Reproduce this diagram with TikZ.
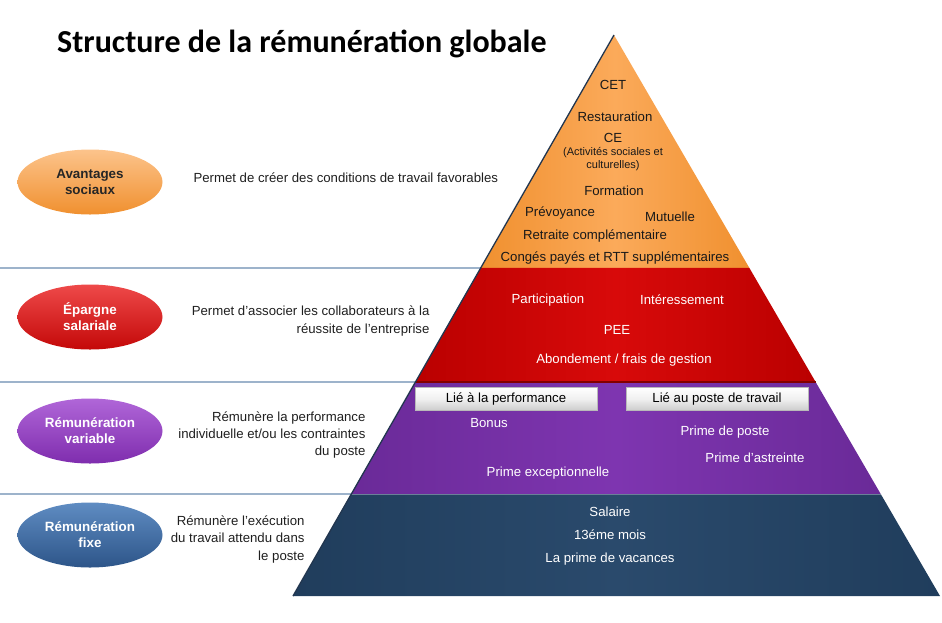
\documentclass[tikz,border=0pt]{standalone}
\usepackage{fontspec}
\setmainfont{Liberation Sans}
\newfontfamily\titlefont{Carlito}
\usepackage{tikz}
\usetikzlibrary{shapes.geometric, calc, positioning}

\definecolor{orangeL}{HTML}{FBAA5A}
\definecolor{orangeD}{HTML}{F0902F}
\definecolor{redL}{HTML}{D80A0A}
\definecolor{redD}{HTML}{BA0000}
\definecolor{purpleL}{HTML}{7E35B0}
\definecolor{purpleD}{HTML}{6A2A98}
\definecolor{blueL}{HTML}{2A4A6C}
\definecolor{blueD}{HTML}{203D5C}
\definecolor{sepline}{HTML}{9DB3CB}
\definecolor{edgeline}{HTML}{22364F}
\definecolor{badgeblueL}{HTML}{5F8CC2}
\definecolor{badgeblueD}{HTML}{2D5589}
\definecolor{badgepurpL}{HTML}{B066D8}
\definecolor{badgepurpD}{HTML}{7F2DAE}
\definecolor{badgeredL}{HTML}{EE4A4A}
\definecolor{badgeredD}{HTML}{C40808}

\begin{document}
\begin{tikzpicture}[x=1pt, y=-1pt,
				font=\fontsize{13.2}{15}\selectfont,
				badge/.style={ellipse, minimum width=145pt, minimum height=65pt,
					inner sep=0pt, align=center,
					font=\bfseries\fontsize{13.4}{16}\selectfont},
				desc/.style={align=right, text=black!88,
					font=\fontsize{13.2}{17.5}\selectfont},
				item/.style={text=black!90},
				itemw/.style={text=white},
				tag/.style={draw=gray!55, top color=white, bottom color=gray!40,
					middle color=gray!12, minimum width=182pt, minimum height=23pt,
					inner sep=0pt},
				sep/.style={draw=sepline, line width=1.6pt}]
				\useasboundingbox (0,0) rectangle (942,622);
				% title
				\node[anchor=west, inner sep=0pt] at (57,44) (title)
					{\titlefont\bfseries\fontsize{32}{34}\selectfont Structure de la rémunération globale};
				% pyramid corners and layer limits
				\coordinate (apex) at (614,35);
				\coordinate (bl) at (293,596);
				\coordinate (br) at (940,596);
				\coordinate (l1) at ($(apex)!0.4153!(bl)$);
				\coordinate (r1) at ($(apex)!0.4153!(br)$);
				\coordinate (l2) at ($(apex)!0.6185!(bl)$);
				\coordinate (r2) at ($(apex)!0.6185!(br)$);
				\coordinate (l3) at ($(apex)!0.8182!(bl)$);
				\coordinate (r3) at ($(apex)!0.8182!(br)$);
				% separators
				\draw[sep] (0,0 |- l1) -- (l1);
				\draw[sep] (0,0 |- l2) -- (l2);
				\draw[sep] (0,0 |- l3) -- (l3);
				% layers
				\shade[left color=orangeD, right color=orangeD, middle color=orangeL]
					(apex) -- (l1) -- (r1) -- cycle;
				\shade[left color=redD, right color=redD, middle color=redL]
					(l1) -- (l2) -- (r2) -- (r1) -- cycle;
				\shade[left color=purpleD, right color=purpleD, middle color=purpleL]
					(l2) -- (l3) -- (r3) -- (r2) -- cycle;
				\shade[left color=blueD, right color=blueD, middle color=blueL]
					(l3) -- (bl) -- (br) -- (r3) -- cycle;
				\draw[redD!70!black, line width=1.2pt] (l2) -- (r2);
				\draw[blueL!70!white, line width=1pt] (l3) -- (r3);
				\draw[edgeline, line width=1.3pt] (apex) -- (bl);
				% badges
				\node[badge, top color=orangeL!70!white, bottom color=orangeD, text=black!85] at (90,182) (avs) {Avantages\\sociaux};
				\node[badge, top color=badgeredL, bottom color=badgeredD, text=white] at (90,317) (eps) {Épargne\\salariale};
				\node[badge, top color=badgepurpL, bottom color=badgepurpD, text=white] at (90,431) (rvar) {Rémunération\\variable};
				\node[badge, top color=badgeblueL, bottom color=badgeblueD, text=white] at (90,535) (rfix) {Rémunération\\fixe};
				% descriptions
				\node[desc, anchor=west] at (190,178) (davs) {Permet de créer des conditions de travail favorables};
				\node[desc, anchor=east] at (433,321) (deps) {Permet d’associer les collaborateurs à la\\réussite de l’entreprise};
				\node[desc, anchor=east] at (369,435) (drvar) {Rémunère la performance\\individuelle et/ou les contraintes\\du poste};
				\node[desc, anchor=east] at (308,539) (drfix) {Rémunère l’exécution\\du travail attendu dans\\le poste};
				% avantages sociaux
				\node[item] at (613,85) (cet) {CET};
				\node[item] at (615,117) (resto) {Restauration};
				\node[item] at (613,138) (ce) {CE};
				\node[item, align=center, font=\fontsize{11}{13}\selectfont] at (613,159) (acts) {(Activités sociales et\\culturelles)};
				\node[item] at (614,191) (form) {Formation};
				\node[item] at (560,213) (prev) {Prévoyance};
				\node[item] at (670,217) (mut) {Mutuelle};
				\node[item] at (595,236) (retr) {Retraite complémentaire};
				\node[item] at (615,258) (conges) {Congés payés et RTT supplémentaires};
				% epargne salariale
				\node[itemw] at (548,300) (part) {Participation};
				\node[itemw] at (682,300) (inter) {Intéressement};
				\node[itemw] at (617,330) (pee) {PEE};
				\node[itemw] at (624,360) (abond) {Abondement / frais de gestion};
				% remuneration variable
				\node[tag] at (506,399) (perf) {Lié à la performance};
				\node[tag] at (717,399) (poste) {Lié au poste de travail};
				\node[itemw] at (489,423) (bonus) {Bonus};
				\node[itemw] at (725,432) (pposte) {Prime de poste};
				\node[itemw] at (755,458) (pastr) {Prime d’astreinte};
				\node[itemw] at (548,473) (pexc) {Prime exceptionnelle};
				% remuneration fixe
				\node[itemw] at (610,512) (sal) {Salaire};
				\node[itemw] at (610,535) (mois) {13éme mois};
				\node[itemw] at (610,559) (vac) {La prime de vacances};
			\end{tikzpicture}
\end{document}
